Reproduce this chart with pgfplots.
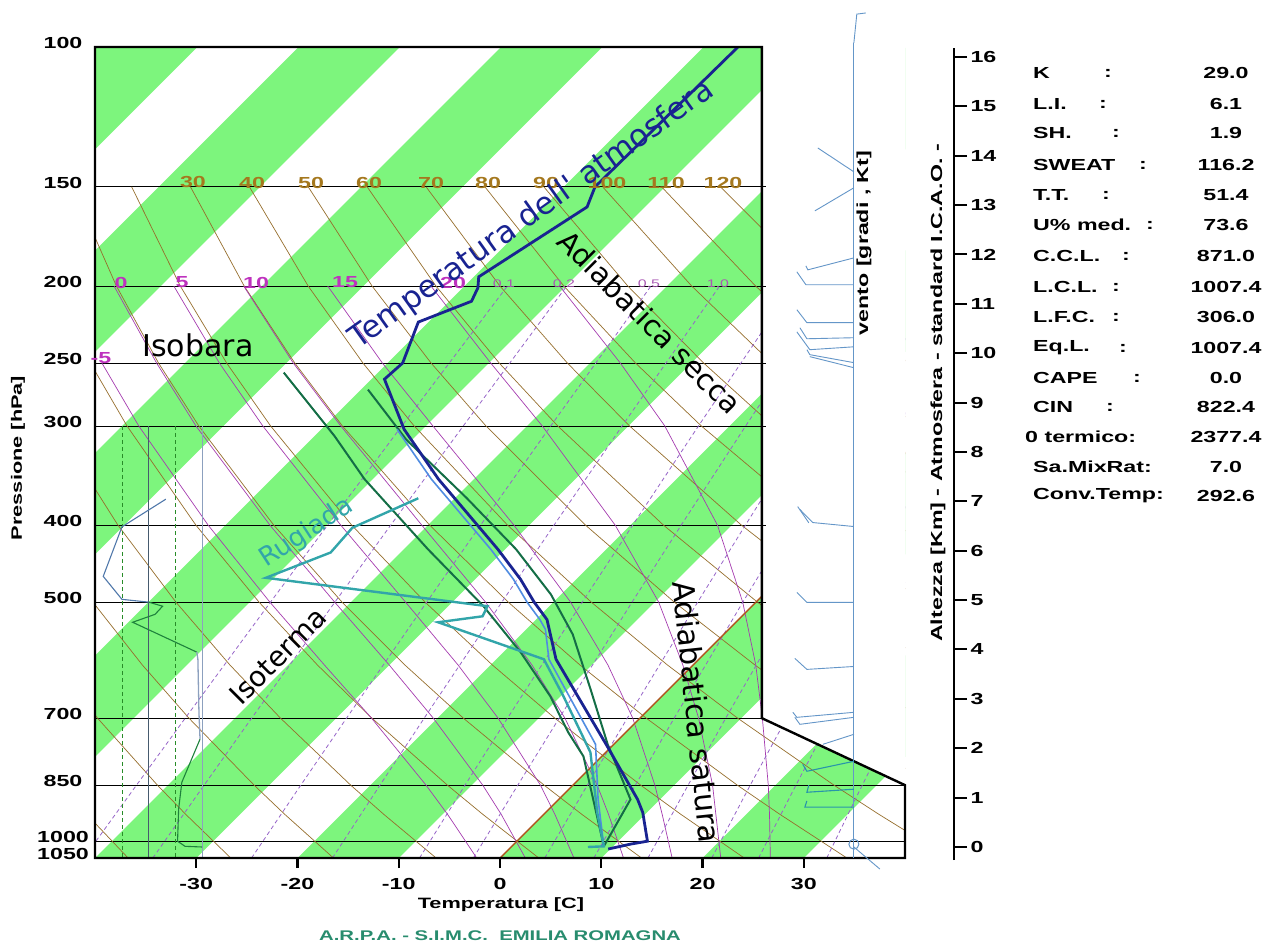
\documentclass[border=0pt]{standalone}
\usepackage{pgfplots}
\pgfplotsset{compat=1.18}
\usepackage{fontspec}
\setmainfont{Liberation Sans}
\newfontfamily\dejavu{DejaVu Sans}
\usepackage{graphicx}

\definecolor{stripe}{RGB}{125,245,125}
\definecolor{dryad}{RGB}{150,110,45}
\definecolor{satad}{RGB}{165,60,175}
\definecolor{mixr}{RGB}{150,100,200}
\definecolor{tcol}{RGB}{25,35,145}
\definecolor{tlight}{RGB}{80,140,225}
\definecolor{dewc}{RGB}{50,165,170}
\definecolor{parcel}{RGB}{20,110,70}
\definecolor{windc}{RGB}{100,150,200}
\definecolor{windt}{RGB}{40,150,170}
\definecolor{iso0}{RGB}{175,85,30}
\definecolor{arpa}{RGB}{40,140,110}
\definecolor{labth}{RGB}{165,120,30}
\definecolor{labw}{RGB}{190,50,190}
\definecolor{labr}{RGB}{170,90,180}
\definecolor{rhdash}{RGB}{40,140,40}
\definecolor{rhsol}{RGB}{70,90,110}
\definecolor{rhlt}{RGB}{140,160,190}
\definecolor{rhblue}{RGB}{80,120,170}
\definecolor{rhgreen}{RGB}{30,130,60}

\newcommand\wide[1]{\scalebox{1.45}[1]{#1}}
\newcommand\lbl{\fontsize{16}{18}\selectfont\bfseries}
\newcommand\biglab{\dejavu\fontsize{30}{30}\selectfont}
% y = height of the pressure level above the 1050 hPa edge (log-p scale)
\newcommand\skewplot[2]{\addplot[#1] table[x expr={\thisrow{T}+34.064*ln(1050/\thisrow{p})}, y expr={344.90*ln(1050/\thisrow{p})}, row sep=\\]{#2};}
\newcommand\pplot[2]{\addplot[#1] table[x=X, y expr={344.90*ln(1050/\thisrow{p})}, row sep=\\]{#2};}
\newcommand\rhplot[2]{\addplot[#1] table[x expr={-39.98+0.10563*\thisrow{rh}}, y expr={344.90*ln(1050/\thisrow{p})}, row sep=\\]{#2};}

\pgfplotsset{
  dryl/.style={dryad, line width=0.7pt},
  satl/.style={satad, line width=0.7pt},
  mixl/.style={mixr, line width=0.8pt, dash pattern=on 4pt off 3pt},
  isol/.style={black, line width=0.8pt},
  wnd/.style={windc, line width=0.9pt},
  wndt/.style={windt, line width=1.1pt},
}

\begin{document}
\begin{tikzpicture}
\path[use as bounding box] (0pt,0pt) rectangle (1265pt,943pt);

% ---------------- main skew-T axis ----------------
\begin{axis}[at={(95pt,85pt)}, anchor=south west, width=810pt, height=811pt,
  scale only axis, xmin=-40, xmax=40, ymin=0, ymax=811,
  axis line style={draw=none}, xtick=\empty,
  ytick={0,16.83,72.88,139.85,255.90,332.86,432.08,494.96,571.9,671.1,811},
  yticklabels={\wide{1050},\wide{1000},\wide{850},\wide{700},\wide{500},\wide{400},\wide{300},\wide{250},\wide{200},\wide{150},\wide{100}},
  ytick style={draw=none},
  yticklabel style={font=\lbl, anchor=center, xshift=-32pt, yshift=4pt}]

% isotherm bands
\pplot{fill=stripe, draw=none}{X p\\-120 1050\\-110 1050\\-29.90 100\\-39.90 100\\}
\pplot{fill=stripe, draw=none}{X p\\-100 1050\\-90 1050\\-9.90 100\\-19.90 100\\}
\pplot{fill=stripe, draw=none}{X p\\-80 1050\\-70 1050\\10.10 100\\0.10 100\\}
\pplot{fill=stripe, draw=none}{X p\\-60 1050\\-50 1050\\30.10 100\\20.10 100\\}
\pplot{fill=stripe, draw=none}{X p\\-40 1050\\-30 1050\\50.10 100\\40.10 100\\}
\pplot{fill=stripe, draw=none}{X p\\-20 1050\\-10 1050\\70.10 100\\60.10 100\\}
\pplot{fill=stripe, draw=none}{X p\\0 1050\\10 1050\\90.10 100\\80.10 100\\}
\pplot{fill=stripe, draw=none}{X p\\20 1050\\30 1050\\110.10 100\\100.10 100\\}

% isobars
\pplot{isol}{X p\\-40 150\\40 150\\}
\pplot{isol}{X p\\-40 200\\40 200\\}
\pplot{isol}{X p\\-40 250\\40 250\\}
\pplot{isol}{X p\\-40 300\\40 300\\}
\pplot{isol}{X p\\-40 400\\40 400\\}
\pplot{isol}{X p\\-40 500\\40 500\\}
\pplot{isol}{X p\\-40 700\\40 700\\}
\pplot{isol}{X p\\-40 850\\40 850\\}
\pplot{isol}{X p\\-40 1000\\40 1000\\}

% dry adiabats (theta = -40 ... 120 C)
\skewplot{dryl}{p T\\1050 -36.73\\925 -45.14\\850 -50.58\\}
\skewplot{dryl}{p T\\1050 -26.59\\925 -35.36\\850 -41.03\\700 -53.56\\600 -63.02\\}
\skewplot{dryl}{p T\\1050 -16.45\\925 -25.58\\850 -31.48\\700 -44.53\\600 -54.38\\500 -65.48\\}
\skewplot{dryl}{p T\\1050 -6.31\\925 -15.80\\850 -21.94\\700 -35.49\\600 -45.73\\500 -57.28\\400 -70.61\\300 -86.60\\}
\skewplot{dryl}{p T\\1050 3.83\\925 -6.02\\850 -12.39\\700 -26.46\\600 -37.09\\500 -49.07\\400 -62.91\\300 -79.51\\250 -89.34\\}
\skewplot{dryl}{p T\\1050 13.98\\925 3.76\\850 -2.84\\700 -17.43\\600 -28.45\\500 -40.87\\400 -55.22\\300 -72.42\\250 -82.61\\200 -94.37\\150 -108.48\\}
\skewplot{dryl}{p T\\1050 24.12\\925 13.54\\850 6.70\\700 -8.40\\600 -19.81\\500 -32.67\\400 -47.52\\300 -65.33\\250 -75.88\\200 -88.06\\150 -102.66\\}
\skewplot{dryl}{p T\\1050 34.26\\925 23.32\\850 16.24\\700 0.63\\600 -11.16\\500 -24.46\\400 -39.82\\300 -58.24\\250 -69.15\\200 -81.75\\150 -96.85\\}
\skewplot{dryl}{p T\\1050 44.40\\925 33.10\\850 25.79\\700 9.66\\600 -2.52\\500 -16.26\\400 -32.13\\300 -51.15\\250 -62.42\\200 -75.43\\150 -91.03\\}
\skewplot{dryl}{p T\\1050 54.54\\925 42.88\\850 35.34\\700 18.69\\600 6.12\\500 -8.06\\400 -24.43\\300 -44.06\\250 -55.69\\200 -69.12\\150 -85.22\\}
\skewplot{dryl}{p T\\1050 64.68\\925 52.66\\850 44.89\\700 27.72\\600 14.76\\500 0.15\\400 -16.73\\300 -36.97\\250 -48.96\\200 -62.81\\150 -79.40\\}
\skewplot{dryl}{p T\\1050 74.82\\925 62.44\\850 54.43\\700 36.76\\600 23.40\\500 8.35\\400 -9.03\\300 -29.88\\250 -42.23\\200 -56.49\\150 -73.58\\}
\skewplot{dryl}{p T\\1050 84.96\\925 72.22\\850 63.98\\700 45.79\\600 32.04\\500 16.55\\400 -1.34\\300 -22.79\\250 -35.50\\200 -50.18\\150 -67.77\\}
\skewplot{dryl}{p T\\1050 95.10\\925 82.00\\850 73.53\\700 54.82\\600 40.69\\500 24.76\\400 6.36\\300 -15.71\\250 -28.77\\200 -43.86\\150 -61.95\\}
\skewplot{dryl}{p T\\1050 105.24\\925 91.78\\850 83.07\\700 63.85\\600 49.33\\500 32.96\\400 14.06\\300 -8.62\\250 -22.04\\200 -37.55\\150 -56.14\\}
\skewplot{dryl}{p T\\1050 115.38\\925 101.56\\850 92.62\\700 72.88\\600 57.97\\500 41.16\\400 21.75\\300 -1.53\\250 -15.31\\200 -31.24\\150 -50.32\\}
\skewplot{dryl}{p T\\1050 125.52\\925 111.34\\850 102.16\\700 81.91\\600 66.62\\500 49.37\\400 29.45\\300 5.56\\250 -8.58\\200 -24.93\\150 -44.51\\}

% saturated adiabats (theta_w = -5 ... 25 C)
\skewplot{satl}{p T\\250 -88.2\\300 -78.35\\400 -61.7\\500 -48.0\\600 -36.4\\700 -26.5\\850 -14.5\\925 -9.5\\1050 -2.3\\}
\skewplot{satl}{p T\\200 -94.6\\250 -82.8\\300 -72.7\\400 -55.6\\500 -41.6\\600 -30.0\\700 -20.4\\850 -8.9\\925 -4.2\\1050 2.5\\}
\skewplot{satl}{p T\\200 -88.7\\250 -76.6\\300 -66.1\\400 -48.6\\500 -34.6\\600 -23.2\\700 -14.0\\850 -3.2\\925 1.1\\1050 7.3\\}
\skewplot{satl}{p T\\200 -81.8\\250 -69.3\\300 -58.4\\400 -40.6\\500 -26.7\\600 -15.9\\700 -7.4\\850 2.4\\925 6.4\\1050 12.2\\}
\skewplot{satl}{p T\\200 -73.5\\250 -60.5\\300 -49.3\\400 -31.5\\500 -18.3\\600 -8.4\\700 -0.7\\850 8.1\\925 11.7\\1050 17.0\\}
\skewplot{satl}{p T\\200 -63.3\\250 -49.8\\300 -38.5\\400 -21.5\\500 -9.6\\600 -1.0\\700 5.8\\850 13.8\\925 17.0\\1050 21.8\\}
\skewplot{satl}{p T\\200 -50.6\\250 -37.0\\300 -26.4\\400 -11.4\\500 -1.3\\600 6.2\\700 12.1\\850 19.3\\925 22.3\\1050 26.7\\}

% mixing ratio lines (g/kg)
\skewplot{mixl}{p T\\1050 -41.11\\850 -43.10\\700 -44.90\\500 -47.94\\400 -49.90\\300 -52.37\\200 -55.76\\}
\skewplot{mixl}{p T\\1050 -34.29\\850 -36.42\\700 -38.34\\500 -41.58\\400 -43.67\\300 -46.30\\200 -49.90\\}
\skewplot{mixl}{p T\\1050 -24.54\\850 -26.87\\700 -28.97\\500 -32.51\\400 -34.79\\300 -37.66\\200 -41.58\\}
\skewplot{mixl}{p T\\1050 -16.55\\850 -19.05\\700 -21.30\\500 -25.09\\400 -27.54\\300 -30.61\\200 -34.80\\}
\skewplot{mixl}{p T\\1050 -7.95\\850 -10.65\\700 -13.07\\500 -17.15\\400 -19.77\\300 -23.07\\200 -27.56\\}
\skewplot{mixl}{p T\\1050 -2.63\\850 -5.44\\700 -7.97\\500 -12.23\\400 -14.98\\300 -18.41\\200 -23.09\\}
\skewplot{mixl}{p T\\1050 4.42\\850 1.43\\700 -1.24\\500 -5.75\\400 -8.64\\300 -12.27\\200 -17.21\\}
\skewplot{mixl}{p T\\1050 9.27\\850 6.17\\700 3.39\\500 -1.29\\400 -4.29\\300 -8.06\\200 -13.17\\}
\skewplot{mixl}{p T\\1050 14.61\\850 11.38\\700 8.48\\500 3.61\\400 0.48\\300 -3.43\\200 -8.75\\}
\skewplot{mixl}{p T\\1050 20.91\\850 17.52\\700 14.49\\500 9.38\\400 6.11\\300 2.01\\200 -3.54\\}
\skewplot{mixl}{p T\\1050 25.54\\850 22.03\\700 18.89\\500 13.61\\400 10.23\\}
\skewplot{mixl}{p T\\1050 32.27\\850 28.58\\700 25.28\\}

% 0 C isotherm
\pplot{iso0, line width=1.4pt}{X p\\0 1050\\80.10 100\\}

% blank the upper-right cut-out
\pplot{fill=white, draw=none}{X p\\25.86 95\\45 95\\45 850\\40 850\\25.86 700\\}

% relative humidity panel
\rhplot{rhdash, line width=0.9pt, dash pattern=on 4pt off 3pt}{rh p\\25 300\\25 1050\\}
\rhplot{rhsol, line width=0.9pt}{rh p\\50 300\\50 1050\\}
\rhplot{rhdash, line width=0.9pt, dash pattern=on 4pt off 3pt}{rh p\\75 300\\75 1050\\}
\rhplot{rhlt, line width=1.2pt}{rh p\\100 300\\100 1050\\}
\rhplot{rhblue, line width=1.1pt}{rh p\\66 371\\25 402\\7.5 464\\25 496\\50 500\\}
\rhplot{rhgreen, line width=1.1pt}{rh p\\50 500\\63 506\\56 518\\35 530\\95 578\\}
\rhplot{rhlt, line width=1.3pt}{rh p\\95 578\\96 590\\97 688\\98 744\\}
\rhplot{rhgreen, line width=1.1pt}{rh p\\98 744\\81 843\\78 911\\77 1000\\84 1015\\100 1017\\}

% lifted parcels
\skewplot{parcel, line width=2pt}{p T\\257 -69.3\\309 -58.0\\350 -50.8\\429 -37.6\\506 -26.5\\578 -18.3\\657 -11.0\\729 -5.7\\782 -1.8\\1015 9.1\\}
\skewplot{parcel, line width=2pt}{p T\\270 -59.3\\312 -50.6\\370 -38.8\\429 -28.9\\489 -21.0\\549 -14.9\\644 -7.7\\755 -0.6\\886 7.1\\1015 9.1\\}

% light blue companion curve
\skewplot{tlight, line width=1.6pt}{p T\\303 -52.5\\350 -44.2\\429 -31.4\\468 -26.2\\500 -22.6\\526 -19.6\\541 -18.1\\590 -14.8\\755 -1.8\\886 3.9\\1015 9.1\\}

% dew point (Rugiada)
\skewplot{dewc, line width=2.4pt}{p T\\370 -43.6\\403 -47.2\\433 -46.9\\466 -50.8\\506 -26.1\\521 -25.6\\530 -29.4\\590 -15.3\\657 -9.7\\773 -1.5\\920 5.1\\1015 9.1\\1017 7.6\\}

% air temperature
\skewplot{tcol, line width=2.8pt}{p T\\100 -56.6\\150 -56.9\\159 -55.7\\194.7 -59.5\\201 -58.5\\209 -57.8\\222 -61.0\\250 -58.5\\262 -58.7\\303 -51.8\\350 -43.5\\429 -30.7\\468 -25.5\\500 -21.9\\526 -18.9\\590 -14.1\\760 -0.4\\886 7.8\\920 9.6\\1000 12.9\\1008.7 11.5\\1023 9.8\\}
\end{axis}

% ---------------- overlay: frame and wind ----------------
\begin{axis}[at={(95pt,85pt)}, anchor=south west, width=810pt, height=811pt,
  scale only axis, xmin=-40, xmax=40, ymin=0, ymax=811, hide axis, clip=false]
\pplot{black, line width=2.4pt}{X p\\-40 100\\25.86 100\\25.86 700\\40 850\\40 1050\\-40 1050\\-40 100\\25.86 100\\}
\pplot{black, line width=0.8pt}{X p\\25.86 150\\26.3 150\\}
\pplot{black, line width=0.8pt}{X p\\25.86 200\\26.3 200\\}
\pplot{black, line width=0.8pt}{X p\\25.86 250\\26.3 250\\}
\pplot{black, line width=0.8pt}{X p\\25.86 300\\26.3 300\\}
\pplot{black, line width=0.8pt}{X p\\25.86 400\\26.3 400\\}
\pplot{black, line width=0.8pt}{X p\\25.86 500\\26.3 500\\}
\pplot{wnd, line width=1.1pt}{X p\\34.95 98.8\\34.95 1050\\}
\pplot{wnd}{X p\\34.95 98.8\\35.24 90.9\\36.13 90.6\\}
\pplot{wnd}{X p\\34.95 143.6\\31.39 134.0\\}
\pplot{wnd}{X p\\34.95 150.4\\31.10 160.8\\}
\pplot{wnd}{X p\\34.95 184.3\\30.40 190.8\\30.21 188.6\\}
\pplot{wnd}{X p\\34.95 199.2\\30.21 199.2\\29.32 191.9\\}
\pplot{wnd}{X p\\34.95 222.4\\30.31 222.4\\29.32 214.2\\}
\pplot{wnd}{X p\\34.95 232.3\\30.31 233.0\\29.62 225.7\\}
\pplot{wnd}{X p\\34.95 238.5\\30.60 240.5\\29.32 228.4\\}
\pplot{wnd}{X p\\34.95 249.7\\30.60 244.0\\30.31 240.5\\}
\pplot{wnd}{X p\\34.95 253.4\\30.60 245.4\\}
\pplot{wnd}{X p\\34.95 401.6\\30.90 397.0\\29.62 382.3\\}
\pplot{wnd}{X p\\30.50 397.3\\29.40 379.0\\}
\pplot{wnd}{X p\\34.95 500.5\\30.31 500.5\\29.32 486.2\\}
\pplot{wnd}{X p\\34.95 602.5\\30.31 607.7\\29.12 588.6\\}
\pplot{wnd}{X p\\34.95 688.2\\29.32 698.3\\28.92 688.2\\}
\pplot{wnd}{X p\\34.95 698.3\\29.62 712.6\\29.12 698.3\\}
\pplot{wnd}{X p\\34.95 733.6\\31.89 755.1\\}
\pplot{wndt}{X p\\34.95 793.2\\30.31 816.5\\29.90 800\\}
\pplot{wndt}{X p\\34.95 860.2\\30.31 867.7\\30.50 850\\}
\pplot{wndt}{X p\\34.95 906.2\\30.11 906.2\\30.30 890\\}
\pplot{wnd, only marks, mark=o, mark size=5pt, mark options={line width=1pt}}{X p\\34.95 1008.7\\}
\pplot{wnd}{X p\\34.95 1017\\37.51 1084\\}
\end{axis}

% ---------------- temperature ticks ----------------
\begin{axis}[at={(95pt,85pt)}, anchor=south west, width=810pt, height=811pt, scale only axis,
  xmin=-40, xmax=40, ymin=0, ymax=1, axis line style={draw=none}, ytick=\empty,
  xtick={-30,-20,-10,0,10,20,30},
  xticklabels={\wide{-30},\wide{-20},\wide{-10},\wide{0},\wide{10},\wide{20},\wide{30}},
  xtick pos=left, tick align=outside, major tick length=10pt,
  xtick style={black, line width=2.2pt},
  xticklabel style={font=\lbl, yshift=-7pt}]
\addplot[draw=none] coordinates {(0,0.5)};
\end{axis}

% ---------------- height axis ----------------
\begin{axis}[at={(954pt,83pt)}, anchor=south east, width=1pt, height=812pt, scale only axis,
  xmin=0, xmax=1, ymin=-0.263, ymax=16.18, axis x line=none, axis y line=right,
  y axis line style={line width=2.4pt, -},
  ytick={0,1,...,16},
  yticklabels={\wide{0},\wide{1},\wide{2},\wide{3},\wide{4},\wide{5},\wide{6},\wide{7},\wide{8},\wide{9},\wide{10},\wide{11},\wide{12},\wide{13},\wide{14},\wide{15},\wide{16}},
  tick align=outside, major tick length=13pt, ytick style={black, line width=2pt},
  yticklabel style={font=\lbl, anchor=west}]
\addplot[draw=none] coordinates {(0.5,5)};
\end{axis}

% ---------------- labels ----------------
\begin{scope}[x=1pt,y=1pt]
\node[labth] at (193,760.5) {\lbl\wide{30}};
\node[labth] at (252,760.5) {\lbl\wide{40}};
\node[labth] at (311,760.5) {\lbl\wide{50}};
\node[labth] at (369,760.5) {\lbl\wide{60}};
\node[labth] at (431,760.5) {\lbl\wide{70}};
\node[labth] at (488,760.5) {\lbl\wide{80}};
\node[labth] at (546,760.5) {\lbl\wide{90}};
\node[labth] at (607,760.5) {\lbl\wide{100}};
\node[labth] at (666,760.5) {\lbl\wide{110}};
\node[labth] at (723,760.5) {\lbl\wide{120}};

\node[labw] at (121,660.5) {\lbl\wide{0}};
\node[labw] at (182,660.5) {\lbl\wide{5}};
\node[labw] at (256,660.5) {\lbl\wide{10}};
\node[labw] at (345,660.5) {\lbl\wide{15}};
\node[labw] at (453,660.5) {\lbl\wide{20}};
\node[labw] at (101,585) {\lbl\wide{-5}};

\node[labr] at (504,659) {\fontsize{11}{11}\selectfont\wide{0.1}};
\node[labr] at (564,659) {\fontsize{11}{11}\selectfont\wide{0.2}};
\node[labr] at (649,659) {\fontsize{11}{11}\selectfont\wide{0.5}};
\node[labr] at (718,659) {\fontsize{11}{11}\selectfont\wide{1.0}};

\node at (198,598) {\biglab Isobara};
\node[rotate=45] at (278,287) {\biglab\fontsize{28}{28}\selectfont Isoterma};
\node[rotate=33, dewc] at (307,410) {\biglab\fontsize{26}{26}\selectfont Rugiada};
\node[rotate=35.5, tcol] at (532,728) {\biglab\fontsize{31}{31}\selectfont Temperatura dell' atmosfera};
\node[rotate=-45] at (650,621) {\biglab\fontsize{29}{29}\selectfont Adiabatica secca};
\node[rotate=-84] at (697,231) {\biglab Adiabatica satura};

\node[rotate=90] at (18,485) {\fontsize{15}{15}\selectfont\bfseries\wide{Pressione [hPa]}};
\node at (501,38) {\fontsize{15}{15}\selectfont\bfseries\wide{Temperatura [C]}};
\node[arpa] at (500,7) {\fontsize{14}{14}\selectfont\bfseries\wide{A.R.P.A. - S.I.M.C.\ \ EMILIA ROMAGNA}};
\node[rotate=90] at (938,550) {\lbl\wide{Altezza [Km] - Atmosfera - standard I.C.A.O. -}};
\node[rotate=90] at (864,700) {\lbl\wide{vento [gradi , Kt]}};

% indices table
\begin{scope}[every node/.style={inner sep=0pt}]
\node[anchor=west] at (1033,870) {\lbl\wide{K}};      \node at (1108,870) {\lbl\wide{:}}; \node at (1226,870) {\lbl\wide{29.0}};
\node[anchor=west] at (1033,839) {\lbl\wide{L.I.}};   \node at (1103,839) {\lbl\wide{:}}; \node at (1226,839) {\lbl\wide{6.1}};
\node[anchor=west] at (1033,810) {\lbl\wide{SH.}};    \node at (1116,810) {\lbl\wide{:}}; \node at (1226,810) {\lbl\wide{1.9}};
\node[anchor=west] at (1033,778) {\lbl\wide{SWEAT}};  \node at (1143,778) {\lbl\wide{:}}; \node at (1226,778) {\lbl\wide{116.2}};
\node[anchor=west] at (1033,748) {\lbl\wide{T.T.}};   \node at (1106,748) {\lbl\wide{:}}; \node at (1226,748) {\lbl\wide{51.4}};
\node[anchor=west] at (1033,718) {\lbl\wide{U\% med.}}; \node at (1150,718) {\lbl\wide{:}}; \node at (1226,718) {\lbl\wide{73.6}};
\node[anchor=west] at (1033,687) {\lbl\wide{C.C.L.}}; \node at (1126,687) {\lbl\wide{:}}; \node at (1226,687) {\lbl\wide{871.0}};
\node[anchor=west] at (1033,656) {\lbl\wide{L.C.L.}}; \node at (1116,656) {\lbl\wide{:}}; \node at (1226,656) {\lbl\wide{1007.4}};
\node[anchor=west] at (1033,626) {\lbl\wide{L.F.C.}}; \node at (1116,626) {\lbl\wide{:}}; \node at (1226,626) {\lbl\wide{306.0}};
\node[anchor=west] at (1033,595) {\lbl\wide{Eq.L.}};  \node at (1123,595) {\lbl\wide{:}}; \node at (1226,595) {\lbl\wide{1007.4}};
\node[anchor=west] at (1033,565) {\lbl\wide{CAPE}};   \node at (1137,565) {\lbl\wide{:}}; \node at (1226,565) {\lbl\wide{0.0}};
\node[anchor=west] at (1033,536) {\lbl\wide{CIN}};    \node at (1110,536) {\lbl\wide{:}}; \node at (1226,536) {\lbl\wide{822.4}};
\node[anchor=west] at (1025,506) {\lbl\wide{0 termico:}}; \node at (1226,506) {\lbl\wide{2377.4}};
\node[anchor=west] at (1033,476) {\lbl\wide{Sa.MixRat:}}; \node at (1226,476) {\lbl\wide{7.0}};
\node[anchor=west] at (1033,447) {\lbl\wide{Conv.Temp:}}; \node at (1226,447) {\lbl\wide{292.6}};
\end{scope}
\end{scope}
\end{tikzpicture}
\end{document}
